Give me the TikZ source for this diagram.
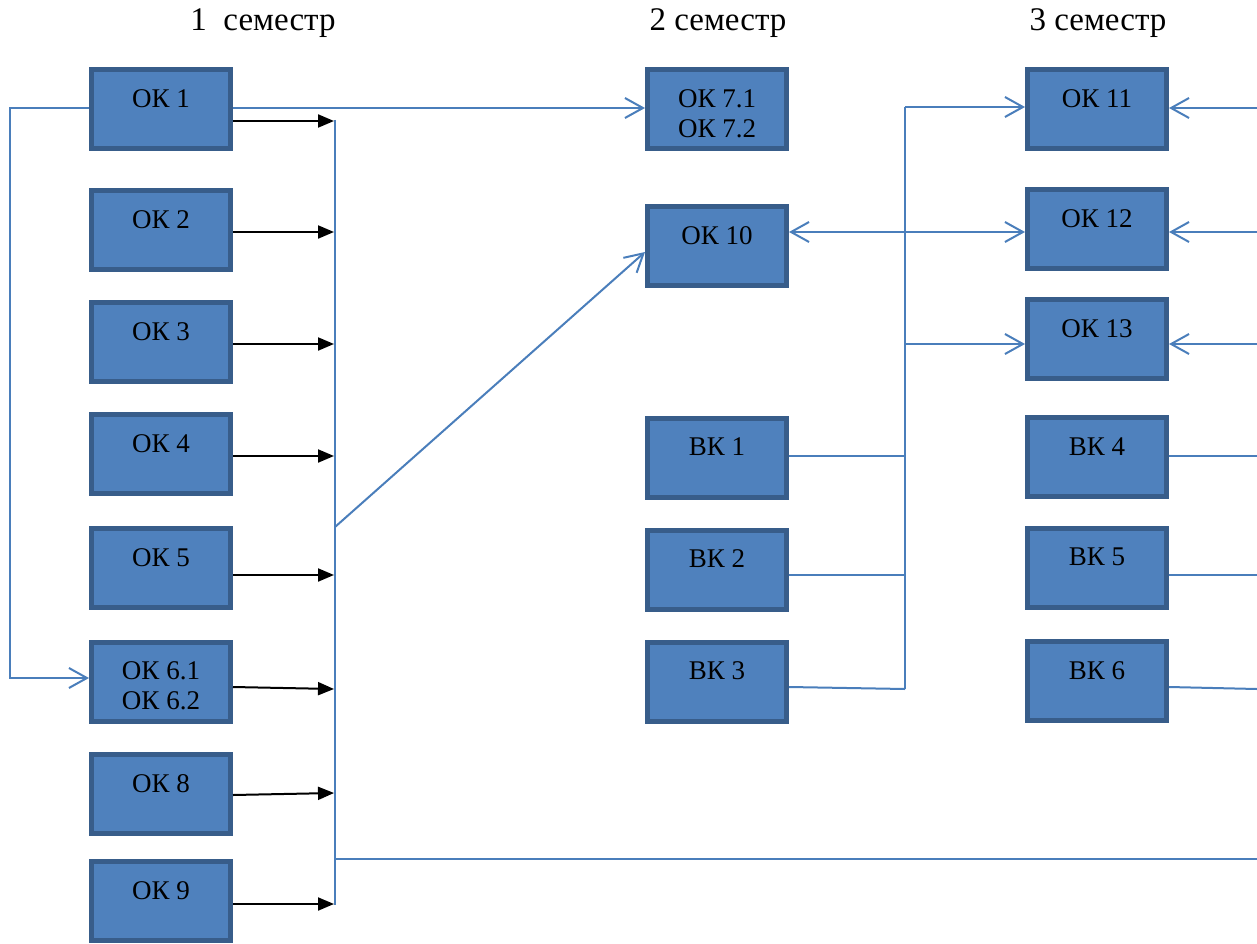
\documentclass[tikz,border=0pt]{standalone}
\usepackage{fontspec}
\setmainfont{Liberation Serif}
\usetikzlibrary{arrows.meta,calc}
\definecolor{boxfill}{HTML}{4F81BD}
\definecolor{boxline}{HTML}{385D8A}
\definecolor{conn}{HTML}{4A7EBB}
\newcommand\tp{\rule{0pt}{26pt}}
\begin{document}
\begin{tikzpicture}[x=1pt,y=-1pt,
 box/.style={draw=boxline, line width=5pt, fill=boxfill, minimum width=139pt, minimum height=79pt, inner sep=0pt, align=center, font=\fontsize{27}{30}\selectfont},
 bline/.style={draw=conn, line width=2pt},
 barrow/.style={bline, -{Straight Barb[length=18pt,width=20pt,line width=2pt]}},
 dbarrow/.style={bline, {Straight Barb[length=18pt,width=20pt,line width=2pt]}-{Straight Barb[length=18pt,width=20pt,line width=2pt]}},
 karrow/.style={draw=black, line width=2pt, -{Triangle[length=16pt,width=13pt]}},
 hdr/.style={font=\fontsize{33}{36}\selectfont, anchor=base}
]
\useasboundingbox (0,0) rectangle (1257,944);

% headers
\node[hdr] (h1) at (263,31) {1\ \ семестр};
\node[hdr] (h2) at (718,31) {2 семестр};
\node[hdr] (h3) at (1098,31) {3 семестр};

% column 1
\node[box] (ok1) at (161,109.5) {\tp ОК 1\\\mbox{}};
\node[box] (ok2) at (161,230) {\tp ОК 2\\\mbox{}};
\node[box] (ok3) at (161,342) {\tp ОК 3\\\mbox{}};
\node[box] (ok4) at (161,454) {\tp ОК 4\\\mbox{}};
\node[box] (ok5) at (161,568) {\tp ОК 5\\\mbox{}};
\node[box] (ok6) at (161,682) {\tp ОК 6.1\\ОК 6.2};
\node[box] (ok8) at (161,794) {\tp ОК 8\\\mbox{}};
\node[box] (ok9) at (161,901) {\tp ОК 9\\\mbox{}};

% column 2
\node[box] (ok7) at (717,109.5) {\tp ОК 7.1\\ОК 7.2};
\node[box] (ok10) at (717,246) {\tp ОК 10\\\mbox{}};
\node[box] (vk1) at (717,457.5) {\tp ВК 1\\\mbox{}};
\node[box] (vk2) at (717,569.5) {\tp ВК 2\\\mbox{}};
\node[box] (vk3) at (717,681.5) {\tp ВК 3\\\mbox{}};

% column 3
\node[box] (ok11) at (1097,109.5) {\tp ОК 11\\\mbox{}};
\node[box] (ok12) at (1097,229) {\tp ОК 12\\\mbox{}};
\node[box] (ok13) at (1097,339) {\tp ОК 13\\\mbox{}};
\node[box] (vk4) at (1097,457) {\tp ВК 4\\\mbox{}};
\node[box] (vk5) at (1097,567.5) {\tp ВК 5\\\mbox{}};
\node[box] (vk6) at (1097,681) {\tp ВК 6\\\mbox{}};

% bus coordinates (column 1)
\coordinate (bus1) at (334,121);
\coordinate (bus2) at (334,232);
\coordinate (bus3) at (334,344);
\coordinate (bus4) at (334,456);
\coordinate (bus5) at (334,575);
\coordinate (bus6) at (334,689);
\coordinate (bus8) at (334,793);
\coordinate (bus9) at (334,904);
\coordinate (bustop) at (335,120);
\coordinate (busbot) at (335,905);
\coordinate (busmid) at (335,527);
\coordinate (busout) at (335,859);
\coordinate (edge0) at (1257,859);

% junction coordinates (column 2)
\coordinate (j1) at (905,107);
\coordinate (j2) at (905,232);
\coordinate (j3) at (905,344);
\coordinate (j4) at (905,456);
\coordinate (j5) at (905,575);
\coordinate (j6) at (905,689);

% right edge coordinates
\coordinate (r1) at (1257,108);
\coordinate (r2) at (1257,232);
\coordinate (r3) at (1257,344);
\coordinate (r4) at (1257,456);
\coordinate (r5) at (1257,575);
\coordinate (r6) at (1257,689);

% blue connectors from OK1
\draw[barrow] ([yshift=1.5]ok1.west) -- ++(-79,0) |- ([yshift=4]ok6.west);
\draw[barrow] ([yshift=1.5]ok1.east) -- ([yshift=1.5]ok7.west);

% black arrows into bus
\draw[karrow] (ok1.east |- bus1) -- (bus1);
\draw[karrow] (ok2.east |- bus2) -- (bus2);
\draw[karrow] (ok3.east |- bus3) -- (bus3);
\draw[karrow] (ok4.east |- bus4) -- (bus4);
\draw[karrow] (ok5.east |- bus5) -- (bus5);
\draw[karrow] ([yshift=-5]ok6.east) -- (bus6);
\draw[karrow] ([yshift=-1]ok8.east) -- (bus8);
\draw[karrow] (ok9.east |- bus9) -- (bus9);

% bus
\draw[bline] (bustop) -- (busbot);
\draw[barrow] (busmid) -- ([yshift=-6]ok10.west);
\draw[bline] (busout) -- (edge0);

% column 2 junction
\draw[bline] (j1) -- (j6);
\draw[barrow] (j1) -- (ok11.west |- j1);
\draw[dbarrow] (ok10.east |- j2) -- (ok12.west |- j2);
\draw[barrow] (j3) -- (ok13.west |- j3);
\draw[bline] (vk1.east |- j4) -- (j4);
\draw[bline] (vk2.east |- j5) -- (j5);
\draw[bline] ([yshift=-5.5]vk3.east) -- (j6);

% right edge
\draw[barrow] (r1) -- (ok11.east |- r1);
\draw[barrow] (r2) -- (ok12.east |- r2);
\draw[barrow] (r3) -- (ok13.east |- r3);
\draw[bline] (vk4.east |- r4) -- (r4);
\draw[bline] (vk5.east |- r5) -- (r5);
\draw[bline] ([yshift=-6]vk6.east) -- (r6);
\end{tikzpicture}
\end{document}
